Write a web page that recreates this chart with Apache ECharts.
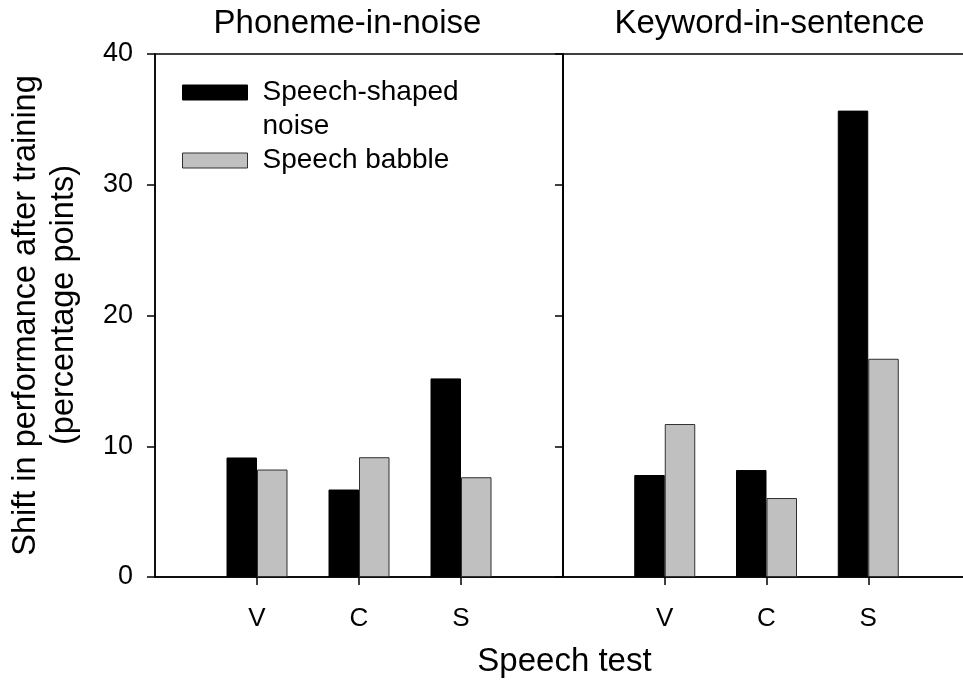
<!DOCTYPE html>
<html>
<head>
<meta charset="utf-8">
<script src="https://cdn.jsdelivr.net/npm/echarts@6/dist/echarts.min.js"></script>
<style>
html,body{margin:0;padding:0;background:#fff;}
#chart{width:963px;height:683px;}
</style>
</head>
<body>
<div id="chart"></div>
<script>
// ---- data ----
const categories = ['V', 'C', 'S'];
const panelTitles = ['Phoneme-in-noise', 'Keyword-in-sentence'];
const seriesNames = ['Speech-shaped noise', 'Speech babble'];
const phonemeSSN = [9.14, 6.69, 15.19];
const phonemeBabble = [8.22, 9.16, 7.63];
const keywordSSN = [7.80, 8.18, 35.67];
const keywordBabble = [11.70, 6.04, 16.69];
const yMin = 0, yMax = 40, yStep = 10;

// ---- helpers ----
const FONT = 'Liberation Sans, Arial, Helvetica, sans-serif';
const axisCats = [''].concat(categories, ['']);
const pad = arr => ['-'].concat(arr, ['-']);
const BLACK = '#000000';
const GRAY = '#c0c0c0';

const chart = echarts.init(document.getElementById('chart'), null, {renderer: 'canvas'});

function xAxisFor(gridIndex) {
  return {
    type: 'category', gridIndex: gridIndex, data: axisCats, boundaryGap: false,
    axisLine: {show: true, lineStyle: {color: '#000', width: 1.5}},
    axisTick: {show: true, length: 8, inside: false, lineStyle: {color: '#000', width: 1.5},
      interval: function (idx) { return idx >= 1 && idx <= categories.length; }},
    axisLabel: {show: true, interval: 0, margin: 29, color: '#000', fontSize: 26, fontFamily: FONT},
    splitLine: {show: false}
  };
}
function yAxisFor(gridIndex, withLabels) {
  const ax = {
    type: 'value', gridIndex: gridIndex, min: yMin, max: yMax, interval: yStep, position: 'left',
    axisLine: {show: true, lineStyle: {color: '#000', width: 1.5}},
    axisTick: {show: true, length: 8, inside: false, lineStyle: {color: '#000', width: 1.5}},
    axisLabel: {show: withLabels, margin: 22, color: '#000', fontSize: 27, fontFamily: FONT},
    splitLine: {show: false}
  };
  if (withLabels) {
    ax.name = '{a|Shift in performance after training}\n{b|(percentage points)}';
    ax.nameLocation = 'middle';
    ax.nameRotate = 90;
    ax.nameGap = 72;
    ax.nameTextStyle = {
      color: '#000', fontFamily: FONT, fontSize: 32.5,
      rich: {
        a: {fontSize: 32.5, lineHeight: 38, fontFamily: FONT, color: '#000'},
        b: {fontSize: 32.5, lineHeight: 38, fontFamily: FONT, color: '#000', padding: [0, 0, 0, 21]}
      }
    };
  }
  return ax;
}
function barSeries(name, gridIndex, values, color) {
  return {
    type: 'bar', name: name, xAxisIndex: gridIndex, yAxisIndex: gridIndex,
    data: pad(values), barWidth: 30.5, barGap: '0%',
    itemStyle: {color: color, borderColor: color === BLACK ? '#000' : '#303030', borderWidth: 1},
    emphasis: {disabled: true}
  };
}

const option = {
  animation: false,
  backgroundColor: '#ffffff',
  textStyle: {fontFamily: FONT},
  title: [
    {text: panelTitles[0], left: 347.5, top: 24, textAlign: 'center', textVerticalAlign: 'middle', padding: 0,
     textStyle: {fontSize: 33, fontWeight: 'normal', color: '#000', fontFamily: FONT}},
    {text: panelTitles[1], left: 769.5, top: 24, textAlign: 'center', textVerticalAlign: 'middle', padding: 0,
     textStyle: {fontSize: 33, fontWeight: 'normal', color: '#000', fontFamily: FONT}}
  ],
  legend: {
    orient: 'vertical', left: 182, top: 41.5, padding: 0, itemGap: 0,
    itemWidth: 65, itemHeight: 15, icon: 'rect',
    itemStyle: {borderColor: '#303030', borderWidth: 1},
    textStyle: {fontSize: 28, lineHeight: 34, color: '#000', fontFamily: FONT,
      padding: [0, 0, 0, 10], backgroundColor: 'rgba(0,0,0,0)'},
    formatter: function (n) { return n === seriesNames[0] ? '\nSpeech-shaped\nnoise' : n; },
    data: [
      {name: seriesNames[0], itemStyle: {borderColor: '#000'}},
      {name: seriesNames[1]}
    ]
  },
  grid: [
    {left: 155, top: 54, width: 408, height: 523, show: true, borderColor: '#000', borderWidth: 1.5,
     backgroundColor: 'transparent', containLabel: false, outerBoundsMode: 'none'},
    {left: 563, top: 54, width: 407, height: 523, show: true, borderColor: '#000', borderWidth: 1.5,
     backgroundColor: 'transparent', containLabel: false, outerBoundsMode: 'none'},
    {left: 157, top: 54, width: 815, height: 523, show: false, containLabel: false, outerBoundsMode: 'none'}
  ],
  xAxis: [
    xAxisFor(0),
    xAxisFor(1),
    {type: 'value', gridIndex: 2, min: 0, max: 1, name: 'Speech test', nameLocation: 'middle', nameGap: 68,
     nameTextStyle: {fontSize: 33, color: '#000', fontFamily: FONT},
     axisLine: {show: false}, axisTick: {show: false}, axisLabel: {show: false}, splitLine: {show: false}}
  ],
  yAxis: [
    yAxisFor(0, true),
    yAxisFor(1, false),
    {type: 'value', gridIndex: 2, show: false, min: 0, max: 1}
  ],
  series: [
    barSeries(seriesNames[0], 0, phonemeSSN, BLACK),
    barSeries(seriesNames[1], 0, phonemeBabble, GRAY),
    barSeries(seriesNames[0], 1, keywordSSN, BLACK),
    barSeries(seriesNames[1], 1, keywordBabble, GRAY)
  ]
};
chart.setOption(option);
</script>
</body>
</html>
